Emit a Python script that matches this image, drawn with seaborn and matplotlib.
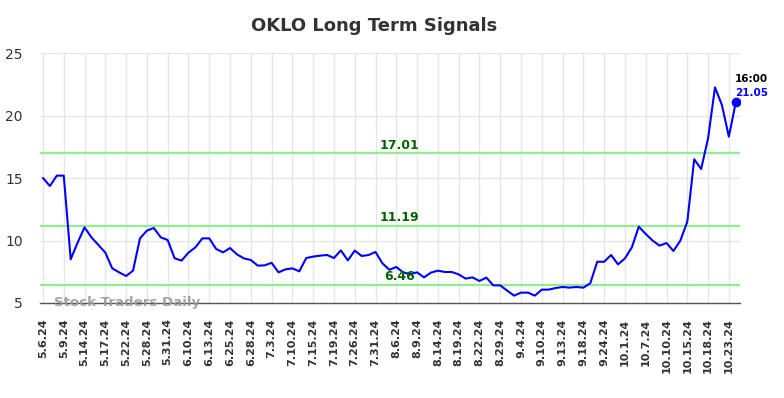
import numpy as np
import pandas as pd
import seaborn as sns
from matplotlib import pyplot as plt

# closing prices, one per session shown on the chart
prices = [15.0, 14.36, 15.19, 15.19, 8.5, 9.83, 11.05, 10.25, 9.64, 9.03,
          7.77, 7.45, 7.16, 7.59, 10.17, 10.79, 11.0, 10.25, 10.04, 8.58,
          8.39, 9.03, 9.45, 10.17, 10.17, 9.32, 9.05, 9.4, 8.89, 8.57,
          8.44, 7.99, 8.01, 8.22, 7.45, 7.69, 7.77, 7.53, 8.6, 8.71,
          8.79, 8.84, 8.6, 9.21, 8.41, 9.19, 8.76, 8.84, 9.08, 8.17,
          7.66, 7.88, 7.44, 7.32, 7.45, 7.05, 7.43, 7.59, 7.48, 7.48,
          7.29, 6.95, 7.05, 6.76, 7.03, 6.41, 6.41, 5.99, 5.59, 5.83,
          5.83, 5.59, 6.07, 6.07, 6.2, 6.28, 6.23, 6.28, 6.23, 6.58,
          8.3, 8.3, 8.84, 8.09, 8.57, 9.45, 11.11, 10.52, 9.99, 9.59,
          9.8, 9.16, 9.99, 11.51, 16.5, 15.72, 18.17, 22.25, 20.84, 18.31,
          21.05]

tick_labels = ["5.6.24", "5.9.24", "5.14.24", "5.17.24", "5.22.24", "5.28.24",
               "5.31.24", "6.10.24", "6.13.24", "6.25.24", "6.28.24", "7.3.24",
               "7.10.24", "7.15.24", "7.19.24", "7.26.24", "7.31.24", "8.6.24",
               "8.9.24", "8.14.24", "8.19.24", "8.22.24", "8.29.24", "9.4.24",
               "9.10.24", "9.13.24", "9.18.24", "9.24.24", "10.1.24", "10.7.24",
               "10.10.24", "10.15.24", "10.18.24", "10.23.24"]

signals = [17.01, 11.19, 6.46]
last_time = "16:00"

df = pd.DataFrame({"idx": np.arange(len(prices)), "price": prices})

sns.set_style("white")
fig = plt.figure(figsize=(7.84, 3.98), dpi=100)
ax = fig.add_axes([0.0504, 0.2387, 0.8934, 0.6281])

sns.lineplot(data=df, x="idx", y="price", color="blue", linewidth=1.5, ax=ax)

for s in signals:
    ax.axhline(s, color="#90ee90", linewidth=1.6, zorder=1)
    ax.text(51.5, s + 0.62, f"{s:.2f}", color="#006400", fontsize=9,
            fontweight="bold", ha="center", va="center")

ax.plot(df["idx"].iloc[-1], prices[-1], "o", color="blue", markersize=6)
ax.text(df["idx"].iloc[-1] - 0.1, prices[-1] + 1.45, last_time, fontsize=7.5,
        fontweight="bold", color="black", ha="left", va="bottom")
ax.text(df["idx"].iloc[-1] - 0.1, prices[-1] + 0.35, f"{prices[-1]:.2f}", fontsize=7.5,
        fontweight="bold", color="blue", ha="left", va="bottom")

ax.text(1.6, 5.0, "Stock Traders Daily", fontsize=9.6, fontweight="bold",
        color="#999999", alpha=0.9, ha="left", va="center")

ax.set_xlim(-0.5, 100.6)
ax.set_ylim(5, 25)
ax.set_xticks(np.arange(0, len(prices), 3))
ax.set_xticklabels(tick_labels, rotation=90, fontsize=8, fontweight="bold", color="#333333")
ax.set_yticks([5, 10, 15, 20, 25])
ax.tick_params(axis="y", labelsize=10, colors="#333333", length=0, pad=12)
ax.tick_params(axis="x", length=0, pad=11)
ax.grid(True, color="#e6e6e6", linewidth=1)
ax.set_axisbelow(True)
ax.set_xlabel("")
ax.set_ylabel("")

for side in ["top", "left", "right"]:
    ax.spines[side].set_visible(False)
ax.spines["bottom"].set_color("#555555")
ax.spines["bottom"].set_linewidth(1)

fig.text(374 / 784, 1 - 26 / 398, "OKLO Long Term Signals", fontsize=13, fontweight="bold",
         color="#333333", ha="center", va="center")

plt.savefig("out.png", dpi=100)
